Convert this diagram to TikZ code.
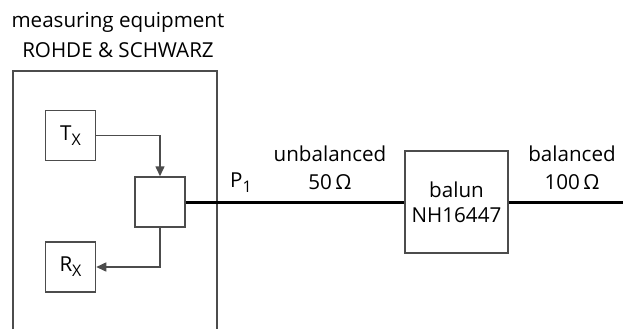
\documentclass[tikz,border=0pt]{standalone}
\usepackage{fontspec}
\setmainfont{Open Sans}
\usepackage{tikz}
\usetikzlibrary{arrows.meta,positioning}

\begin{document}
\begin{tikzpicture}[x=0.5pt,y=-0.5pt,>={Triangle[length=5pt,width=4.5pt]},
  font=\fontsize{10.3}{14}\selectfont,
  blk/.style={draw=black!70,line width=0.75pt,minimum width=25pt,minimum height=25pt,inner sep=0pt},
  wire/.style={draw=black!70,line width=0.75pt},
  cable/.style={draw=black,line width=1.5pt},
  lbl/.style={align=center,inner sep=0pt}]
\useasboundingbox (0,0) rectangle (623,329);
% instrument housing, open at the bottom
\draw[wire] (13,329) -- (13,71) -- (217,71) -- (217,329);
\node[lbl,font=\fontsize{10.3}{15}\selectfont] (title) at (118,35) {measuring equipment\\ROHDE \& SCHWARZ};
\node[blk] (tx) at (70.5,135.5) {T\raisebox{-2.5pt}{\fontsize{8}{8}\selectfont X}};
\node[blk] (cpl) at (160,202) {};
\node[blk] (rx) at (70.5,267) {R\raisebox{-2.5pt}{\fontsize{8}{8}\selectfont X}};
\draw[wire,->] (tx.east) -| (cpl.north);
\draw[wire,->] (cpl.south) |- (rx.east);
\node[lbl] (port) at (241,183) {P\raisebox{-2.5pt}{\fontsize{8}{8}\selectfont 1}};
% cable to the balun
\node[blk,minimum width=51.5pt,minimum height=51pt,align=center] (balun) at (456.5,202) {balun\\[-1.5pt]NH16447};
\coordinate (end) at (623,202);
\draw[cable] (cpl.east) -- (balun.west);
\draw[cable] (balun.east) -- (end);
\node[lbl] (unbal) at (330,168) {unbalanced\\50\,Ω};
\node[lbl] (bal) at (572,168) {balanced\\100\,Ω};
\end{tikzpicture}
\end{document}
